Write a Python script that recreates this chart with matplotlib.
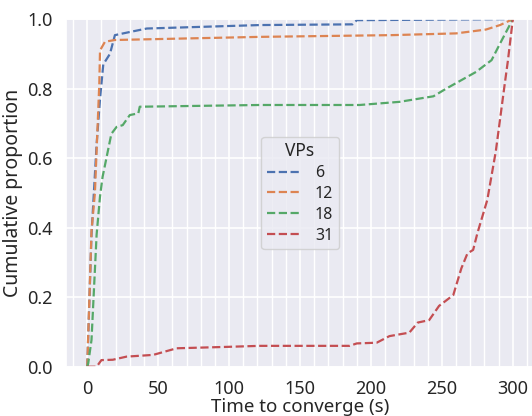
import numpy as np
import matplotlib
matplotlib.use("Agg")
import matplotlib.pyplot as plt
import seaborn as sns
from matplotlib.ticker import MultipleLocator

sns.set_theme(style="darkgrid")
plt.rcParams['font.family'] = ['Noto Sans', 'DejaVu Sans']

# convergence time (s) vs cumulative proportion
t6 = [0, 3, 6.6, 9, 11.3, 16, 19.5, 30, 42, 122, 187, 190, 300]
p6 = [0, 0.38, 0.64, 0.77, 0.87, 0.90, 0.954, 0.963, 0.973, 0.983, 0.985, 0.997, 1.0]

t12 = [0, 3, 5.4, 8.5, 9, 12.5, 19.5, 122, 215, 260, 281, 291, 300]
p12 = [0, 0.39, 0.50, 0.815, 0.91, 0.935, 0.94, 0.949, 0.954, 0.959, 0.970, 0.983, 1.0]

t18 = [0, 0.7, 3, 6.6, 9, 10.8, 17, 20.7, 25, 30, 36, 37, 121.6, 192, 220, 244, 253, 274, 285, 291, 300]
p18 = [0, 0.01, 0.077, 0.38, 0.49, 0.546, 0.67, 0.69, 0.695, 0.724, 0.729, 0.748, 0.753, 0.753,
       0.762, 0.778, 0.80, 0.848, 0.882, 0.93, 1.0]

t31 = [0, 6.6, 10, 18, 27.7, 46.5, 63, 98, 121.6, 185, 190, 204, 213, 227, 233, 241, 248, 258,
       263.7, 268, 272, 275, 282, 288, 294, 296.5, 300]
p31 = [0, 0, 0.019, 0.02, 0.029, 0.034, 0.053, 0.057, 0.06, 0.06, 0.067, 0.069, 0.088, 0.098,
       0.127, 0.134, 0.175, 0.206, 0.283, 0.326, 0.336, 0.384, 0.48, 0.62, 0.805, 0.88, 1.0]

labels = ["6", "12", "18", "31"]
colors = sns.color_palette("deep")

fig = plt.figure(figsize=(5.32, 4.16), dpi=100)
ax = fig.add_axes([0.124, 0.1185, 0.88, 0.8355])

for t, p, lab, c in zip([t6, t12, t18, t31], [p6, p12, p18, p31], labels, colors):
    ax.plot(t, p, linestyle='--', color=c, lw=1.6, label=lab)

ax.set_ylim(0, 1.0)
ax.set_xlim(-15, 315)
ax.xaxis.set_minor_locator(MultipleLocator(10))
ax.grid(which='minor', axis='x', color='white', lw=1.0)
ax.grid(which='major', color='white', lw=1.2)
ax.tick_params(labelsize=13)
ax.set_xlabel("Time to converge (s)", fontsize=13.5, labelpad=0)
ax.set_ylabel("Cumulative proportion", fontsize=14, labelpad=3)

ax.legend(title="VPs", loc='center', fontsize=11.5, title_fontsize=12.5,
          labelspacing=0.3, handlelength=2.2, borderpad=0.35)

fig.savefig("out.png", dpi=100)
